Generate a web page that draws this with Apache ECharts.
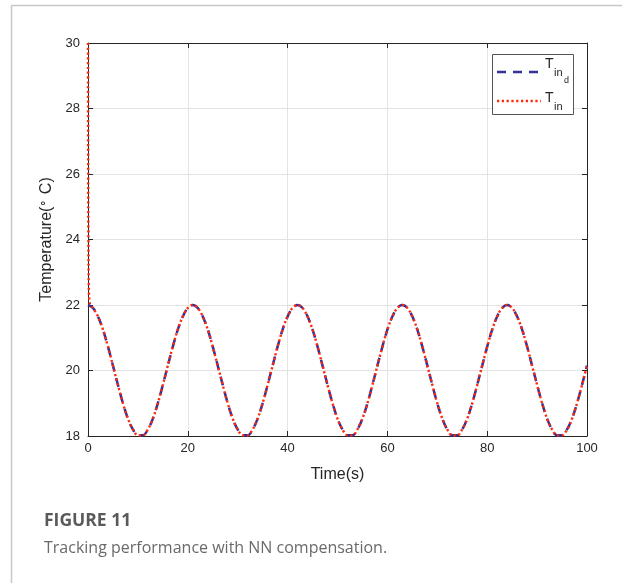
<!DOCTYPE html>
<html>
<head>
<meta charset="utf-8">
<script src="https://cdn.jsdelivr.net/npm/echarts@6/dist/echarts.min.js"></script>
<style>
html,body{margin:0;padding:0;background:#fff;}
#c{width:622px;height:583px;}
</style>
</head>
<body>
<div id="c"></div>
<script>
// ---- data ----
var timeD = [];
for (var i = 0; i <= 100; i++) timeD.push(i);
var tIndD = [
 22.00,21.91,21.65,21.25,20.73,20.15,19.56,19.00,18.53,18.20,18.02,18.02,18.20,18.53,19.00,19.56,20.15,20.73,21.25,21.65,21.91,
 22.00,21.91,21.65,21.25,20.73,20.15,19.56,19.00,18.53,18.20,18.02,18.02,18.20,18.53,19.00,19.56,20.15,20.73,21.25,21.65,21.91,
 22.00,21.91,21.65,21.25,20.73,20.15,19.56,19.00,18.53,18.20,18.02,18.02,18.20,18.53,19.00,19.56,20.15,20.73,21.25,21.65,21.91,
 22.00,21.91,21.65,21.25,20.73,20.15,19.56,19.00,18.53,18.20,18.02,18.02,18.20,18.53,19.00,19.56,20.15,20.73,21.25,21.65,21.91,
 22.00,21.91,21.65,21.25,20.73,20.15,19.56,19.00,18.53,18.20,18.02,18.02,18.20,18.53,19.00,19.56,20.15
];
var timeIn0 = [0, 0.03, 0.08, 0.15, 0.3, 0.6];
var tIn0 = [30.0, 26.8, 24.2, 22.6, 22.1, 21.97];
var xTicks = [0, 20, 40, 60, 80, 100];
var yTicks = [18, 20, 22, 24, 26, 28, 30];

var desired = timeD.map(function (t, k) { return [t, tIndD[k]]; });
var actual = timeIn0.map(function (t, k) { return [t, tIn0[k]]; })
  .concat(timeD.slice(1).map(function (t, k) { return [t, tIndD[k + 1]]; }));

var chart = echarts.init(document.getElementById('c'), null, {renderer: 'canvas'});
var axisCol = '#262626';
var font = "Arial, 'Liberation Sans', sans-serif";
var capFont = "'Open Sans', Lato, sans-serif";

function xAx(pos, show) {
  return {
    type: 'value', position: pos, min: xTicks[0], max: xTicks[xTicks.length - 1], interval: 20,
    axisLine: {show: true, onZero: false, lineStyle: {color: axisCol, width: 1}},
    axisTick: {show: true, inside: true, length: 5, lineStyle: {color: axisCol}},
    axisLabel: {show: show, color: axisCol, fontSize: 13, fontFamily: font, margin: 6},
    splitLine: {show: show, lineStyle: {color: '#e3e3e3', width: 1}},
    name: show ? 'Time(s)' : '', nameLocation: 'middle', nameGap: 31,
    nameTextStyle: {color: axisCol, fontSize: 16, fontFamily: font}
  };
}
function yAx(pos, show) {
  return {
    type: 'value', position: pos, min: yTicks[0], max: yTicks[yTicks.length - 1], interval: 2,
    axisLine: {show: true, onZero: false, lineStyle: {color: axisCol, width: 1}},
    axisTick: {show: true, inside: true, length: 5, lineStyle: {color: axisCol}},
    axisLabel: {show: show, color: axisCol, fontSize: 13, fontFamily: font, margin: 8},
    splitLine: {show: show, lineStyle: {color: '#e3e3e3', width: 1}},
    name: show ? '{a|Temperature(}{b|∘}{a| C)}' : '', nameLocation: 'middle', nameGap: 26,
    nameTextStyle: {color: axisCol, fontSize: 16, fontFamily: font,
      rich: {a: {fontSize: 16, fontFamily: font, color: axisCol},
             b: {fontSize: 12, fontFamily: font, color: axisCol, padding: [0, 0, 5, 0]}}}
  };
}

chart.setOption({
  animation: false,
  backgroundColor: '#fff',
  grid: {left: 88, right: 35, top: 43, bottom: 147},
  xAxis: [xAx('bottom', true), xAx('top', false)],
  yAxis: [yAx('left', true), yAx('right', false)],
  series: [
    {type: 'line', name: 'Tind', data: desired, xAxisIndex: 0, yAxisIndex: 0,
     showSymbol: false, smooth: 0.35, lineStyle: {color: '#35309a', width: 2.5, type: [9, 7]}},
    {type: 'line', name: 'Tin', data: actual, xAxisIndex: 0, yAxisIndex: 0,
     showSymbol: false, smooth: 0.35, lineStyle: {color: '#ff2a0a', width: 2.4, type: [2.2, 2.6]}}
  ],
  graphic: [
    {type: 'line', shape: {x1: 11.5, y1: 5.5, x2: 622, y2: 5.5}, style: {stroke: '#c8c8c8', lineWidth: 1.5}},
    {type: 'line', shape: {x1: 11.5, y1: 5.5, x2: 11.5, y2: 583}, style: {stroke: '#c8c8c8', lineWidth: 1.5}},
    {type: 'rect', shape: {x: 492.5, y: 54.5, width: 81, height: 60}, style: {fill: '#fff', stroke: '#555', lineWidth: 1}, z: 100},
    {type: 'line', shape: {x1: 497, y1: 72, x2: 541, y2: 72}, style: {stroke: '#35309a', lineWidth: 2.5, lineDash: [9, 7]}, z: 101},
    {type: 'line', shape: {x1: 497, y1: 101, x2: 541, y2: 101}, style: {stroke: '#ff2a0a', lineWidth: 2.4, lineDash: [2.2, 2.6]}, z: 101},
    {type: 'text', x: 545, y: 57, style: {text: 'T', fontSize: 14, fontFamily: font, fill: axisCol}, z: 101},
    {type: 'text', x: 554, y: 67, style: {text: 'in', fontSize: 11, fontFamily: font, fill: axisCol}, z: 101},
    {type: 'text', x: 564, y: 76, style: {text: 'd', fontSize: 9, fontFamily: font, fill: axisCol}, z: 101},
    {type: 'text', x: 545, y: 91, style: {text: 'T', fontSize: 14, fontFamily: font, fill: axisCol}, z: 101},
    {type: 'text', x: 554, y: 101, style: {text: 'in', fontSize: 11, fontFamily: font, fill: axisCol}, z: 101},
    {type: 'text', x: 44, y: 512, style: {text: 'FIGURE 11', fontSize: 17.5, fontWeight: 'bold', fontFamily: capFont, fill: '#5a5a5a'}},
    {type: 'text', x: 44, y: 540, style: {text: 'Tracking performance with NN compensation.', fontSize: 16, fontFamily: capFont, fill: '#6a6a6a'}}
  ]
});
</script>
</body>
</html>
